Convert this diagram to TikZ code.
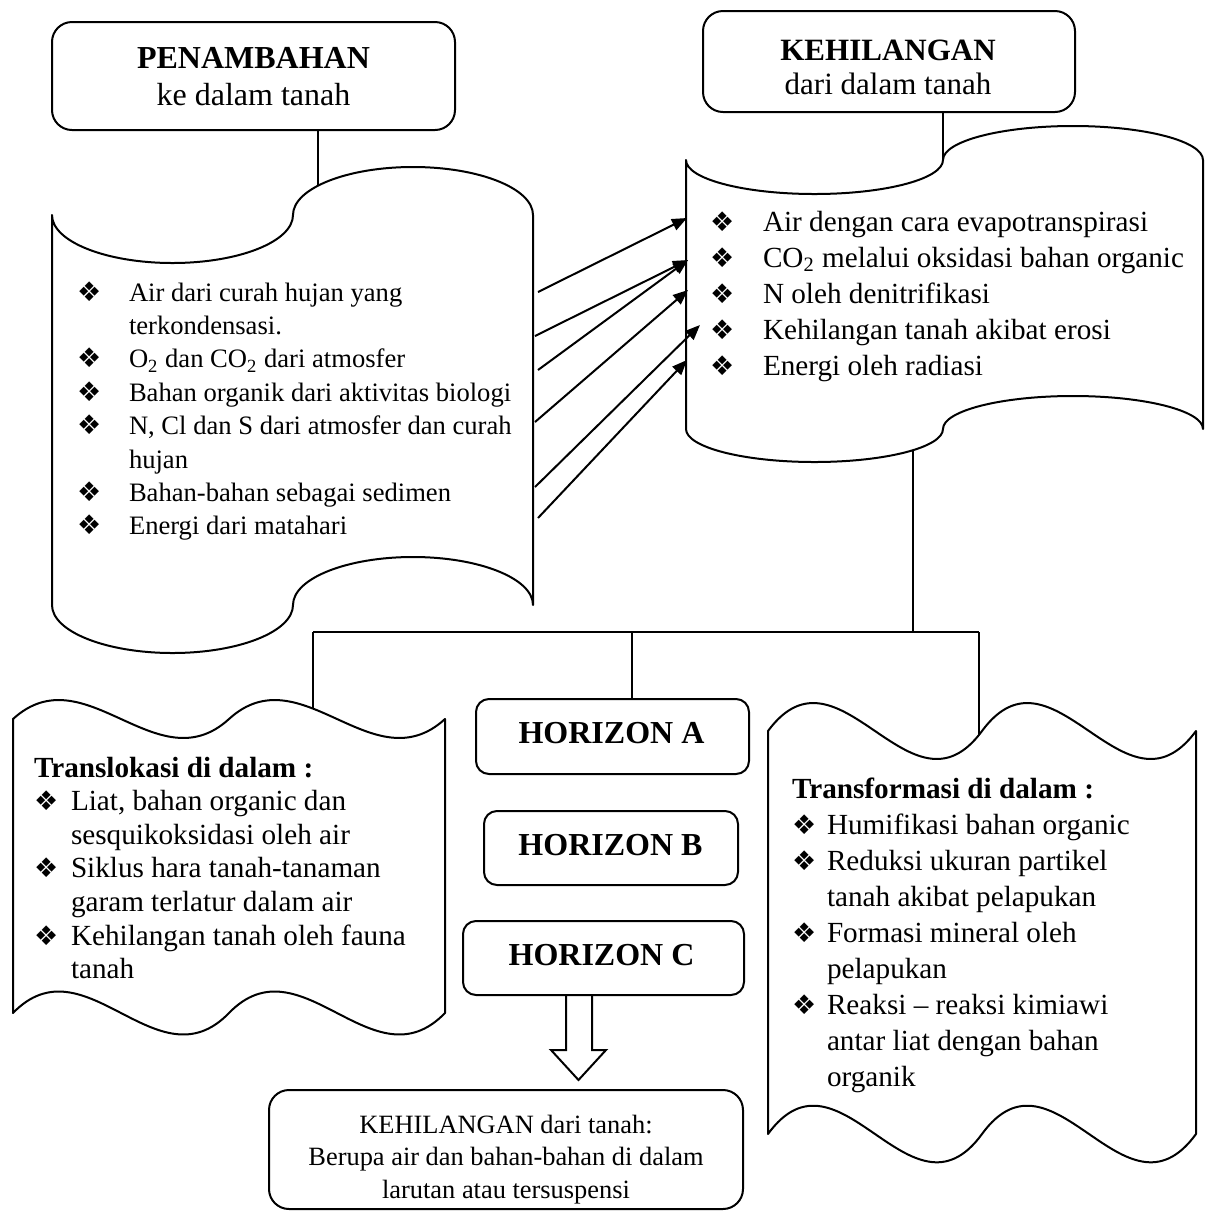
\documentclass[tikz,border=0pt]{standalone}
\usepackage{fontspec}
\setmainfont{Liberation Serif}
\newfontfamily\dingfont{DejaVu Sans}
\usetikzlibrary{arrows.meta}
\newcommand\fsz[2]{\fontsize{#1}{#2}\selectfont}
\newcommand\bul{{\dingfont\fontsize{13.5}{13.5}\selectfont ❖}}
\newcommand\bi[1]{\makebox[#1][l]{\bul}}
\begin{document}
\begin{tikzpicture}[x=0.5pt,y=-0.5pt,line width=1pt,
  rbox/.style={draw,rounded corners=#1,inner sep=0pt,outer sep=0pt},
  txt/.style={inner sep=0pt,outer sep=0pt},
  scrl/.style={draw,line join=round},
  arr/.style={-{Triangle[length=7.5pt,width=6pt]}}]
\fill[white] (0,0) rectangle (1212,1212);
\useasboundingbox (0,0) rectangle (1212,1212);

% ---------- left punched tape (additions)
\draw[scrl] (52,215) .. controls (52,241.5) and (105.95,263) .. (172.5,263)
  .. controls (239.05,263) and (293,241.5) .. (293,215)
  .. controls (293,188.5) and (346.7,167) .. (413,167)
  .. controls (479.3,167) and (533,188.5) .. (533,215)
  -- (533,605)
  .. controls (533,578.5) and (479.3,557) .. (413,557)
  .. controls (346.7,557) and (293,578.5) .. (293,605)
  .. controls (293,631.5) and (239.05,653) .. (172.5,653)
  .. controls (105.95,653) and (52,631.5) .. (52,605) -- cycle;

% ---------- right punched tape (losses)
\draw[scrl] (686,160) .. controls (686,178.8) and (743.5,194) .. (814.5,194)
  .. controls (885.5,194) and (943,178.8) .. (943,160)
  .. controls (943,141.2) and (1001.2,126) .. (1073,126)
  .. controls (1144.8,126) and (1203,141.2) .. (1203,160)
  -- (1203,429)
  .. controls (1203,410.8) and (1144.8,396) .. (1073,396)
  .. controls (1001.2,396) and (943,410.8) .. (943,429)
  .. controls (943,447.2) and (885.5,462) .. (814.5,462)
  .. controls (743.5,462) and (686,447.2) .. (686,429) -- cycle;

% ---------- translocation double wave
\draw[scrl] (13,719) .. controls (85,653.3) and (157,784.7) .. (229,719)
  .. controls (301,653.3) and (373,784.7) .. (445,719)
  -- (445,1013)
  .. controls (373,1087.4) and (301,938.6) .. (229,1013)
  .. controls (157,1087.4) and (85,938.6) .. (13,1013) -- cycle;

% ---------- transformation double wave
\draw[scrl] (768,731) .. controls (839.3,634.1) and (910.7,827.9) .. (982,731)
  .. controls (1053.3,634.1) and (1124.7,827.9) .. (1196,731)
  -- (1196,1134)
  .. controls (1124.7,1232) and (1053.3,1036) .. (982,1134)
  .. controls (910.7,1232) and (839.3,1036) .. (768,1134) -- cycle;

% ---------- boxes
\node[rbox=10pt,minimum width=201.5pt,minimum height=54pt] (penbox) at (253.5,76) {};
\node[txt,anchor=base,font=\fsz{16}{19}\bfseries] (pentitle) at (253.5,68) {PENAMBAHAN};
\node[txt,anchor=base,font=\fsz{16}{19}] (pensub) at (253.5,105) {ke dalam tanah};

\node[rbox=10pt,minimum width=186pt,minimum height=50.5pt] (kehbox) at (889,61.5) {};
\node[txt,anchor=base,font=\fsz{15.5}{19}\bfseries] (kehtitle) at (888,60) {KEHILANGAN};
\node[txt,anchor=base,font=\fsz{15.5}{19}] (kehsub) at (888,94) {dari dalam tanah};

\node[rbox=6.5pt,minimum width=136.5pt,minimum height=37.5pt] (ha) at (612.5,736.5) {};
\node[txt,anchor=base,font=\fsz{16}{19}\bfseries] (hatext) at (611.5,743) {HORIZON A};
\node[rbox=6.5pt,minimum width=127pt,minimum height=37pt] (hb) at (611,848) {};
\node[txt,anchor=base,font=\fsz{16}{19}\bfseries] (hbtext) at (610.5,855) {HORIZON B};
\node[rbox=6.5pt,minimum width=140.5pt,minimum height=37pt] (hc) at (603.5,958) {};
\node[txt,anchor=base,font=\fsz{16}{19}\bfseries] (hctext) at (601.5,965) {HORIZON C};

\node[rbox=10pt,minimum width=237pt,minimum height=59.5pt] (lossbox) at (506,1149.5) {};
\node[txt,anchor=base,font=\fsz{13.2}{16.25}] (losstext) at (506,1133)
 {\begin{tabular}[t]{@{}c@{}}KEHILANGAN dari tanah:\\Berupa air dan bahan-bahan di dalam\\larutan atau tersuspensi\end{tabular}};

% ---------- lists
\node[txt,anchor=base west,font=\fsz{13.3}{16.7}] (addlist) at (77,301)
 {\begin{tabular}[t]{@{}l@{}l@{}}
 \bi{26pt} & Air dari curah hujan yang\\
  & terkondensasi.\\
 \bi{26pt} & O\textsubscript{2} dan CO\textsubscript{2} dari atmosfer\\
 \bi{26pt} & Bahan organik dari aktivitas biologi\\
 \bi{26pt} & N, Cl dan S dari atmosfer dan curah\\
  & hujan\\
 \bi{26pt} & Bahan-bahan sebagai sedimen\\
 \bi{26pt} & Energi dari matahari
 \end{tabular}};

\node[txt,anchor=base west,font=\fsz{14.6}{18}] (losslist) at (710,231)
 {\begin{tabular}[t]{@{}l@{}l@{}}
 \bi{26.5pt} & Air dengan cara evapotranspirasi\\
 \bi{26.5pt} & CO\textsubscript{2} melalui oksidasi bahan organic\\
 \bi{26.5pt} & N oleh denitrifikasi\\
 \bi{26.5pt} & Kehilangan tanah akibat erosi\\
 \bi{26.5pt} & Energi oleh radiasi
 \end{tabular}};

\node[txt,anchor=base west,font=\fsz{14.6}{16.8}] (trlist) at (34,777)
 {\begin{tabular}[t]{@{}l@{}l@{}}
 \multicolumn{2}{@{}l@{}}{\textbf{Translokasi di dalam :}}\\
 \bi{18.5pt} & Liat, bahan organic dan\\
  & sesquikoksidasi oleh air\\
 \bi{18.5pt} & Siklus hara tanah-tanaman\\
  & garam terlatur dalam air\\
 \bi{18.5pt} & Kehilangan tanah oleh fauna\\
  & tanah
 \end{tabular}};

\node[txt,anchor=base west,font=\fsz{14.6}{18}] (tflist) at (792,798)
 {\begin{tabular}[t]{@{}l@{}l@{}}
 \multicolumn{2}{@{}l@{}}{\textbf{Transformasi di dalam :}}\\
 \bi{17.5pt} & Humifikasi bahan organic\\
 \bi{17.5pt} & Reduksi ukuran partikel\\
  & tanah akibat pelapukan\\
 \bi{17.5pt} & Formasi mineral oleh\\
  & pelapukan\\
 \bi{17.5pt} & Reaksi -- reaksi kimiawi\\
  & antar liat dengan bahan\\
  & organik
 \end{tabular}};

% ---------- connectors
\coordinate (pentop) at (318,185.7);
\draw (penbox.south -| pentop) -- (pentop);
\coordinate (kehjoin) at (943,160);
\draw (kehbox.south -| kehjoin) -- (kehjoin);

\coordinate (lossjoin) at (913,450.2);
\coordinate (busL) at (313,632);
\coordinate (busM) at (632,632);
\coordinate (busR) at (979,632);
\coordinate (trjoin) at (313,708.6);
\coordinate (tfjoin) at (979,735);
\draw (lossjoin) -- (lossjoin |- busL);
\draw (busL) -- (busR);
\draw (busL) -- (trjoin);
\draw (busM) -- (busM |- ha.north);
\draw (busR) -- (tfjoin);

\coordinate (g1) at (538,292); \coordinate (k1) at (687,218);
\coordinate (g2) at (535,336); \coordinate (k2) at (688,260);
\coordinate (g3) at (538,370);
\coordinate (g4) at (535,422); \coordinate (k4) at (688,290);
\coordinate (g5) at (535,487); \coordinate (k5) at (700,325);
\coordinate (g6) at (538,518); \coordinate (k6) at (687,360);
\draw[arr] (g1) -- (k1);
\draw[arr] (g2) -- (k2);
\draw[arr] (g3) -- (k2);
\draw[arr] (g4) -- (k4);
\draw[arr] (g5) -- (k5);
\draw[arr] (g6) -- (k6);

% ---------- hollow block arrow from horizon C to the loss box
\draw[line join=miter] (566,995) -- (566,1050) -- (551,1050) -- (578.5,1080)
  -- (606,1050) -- (592,1050) -- (592,995);
\end{tikzpicture}
\end{document}
